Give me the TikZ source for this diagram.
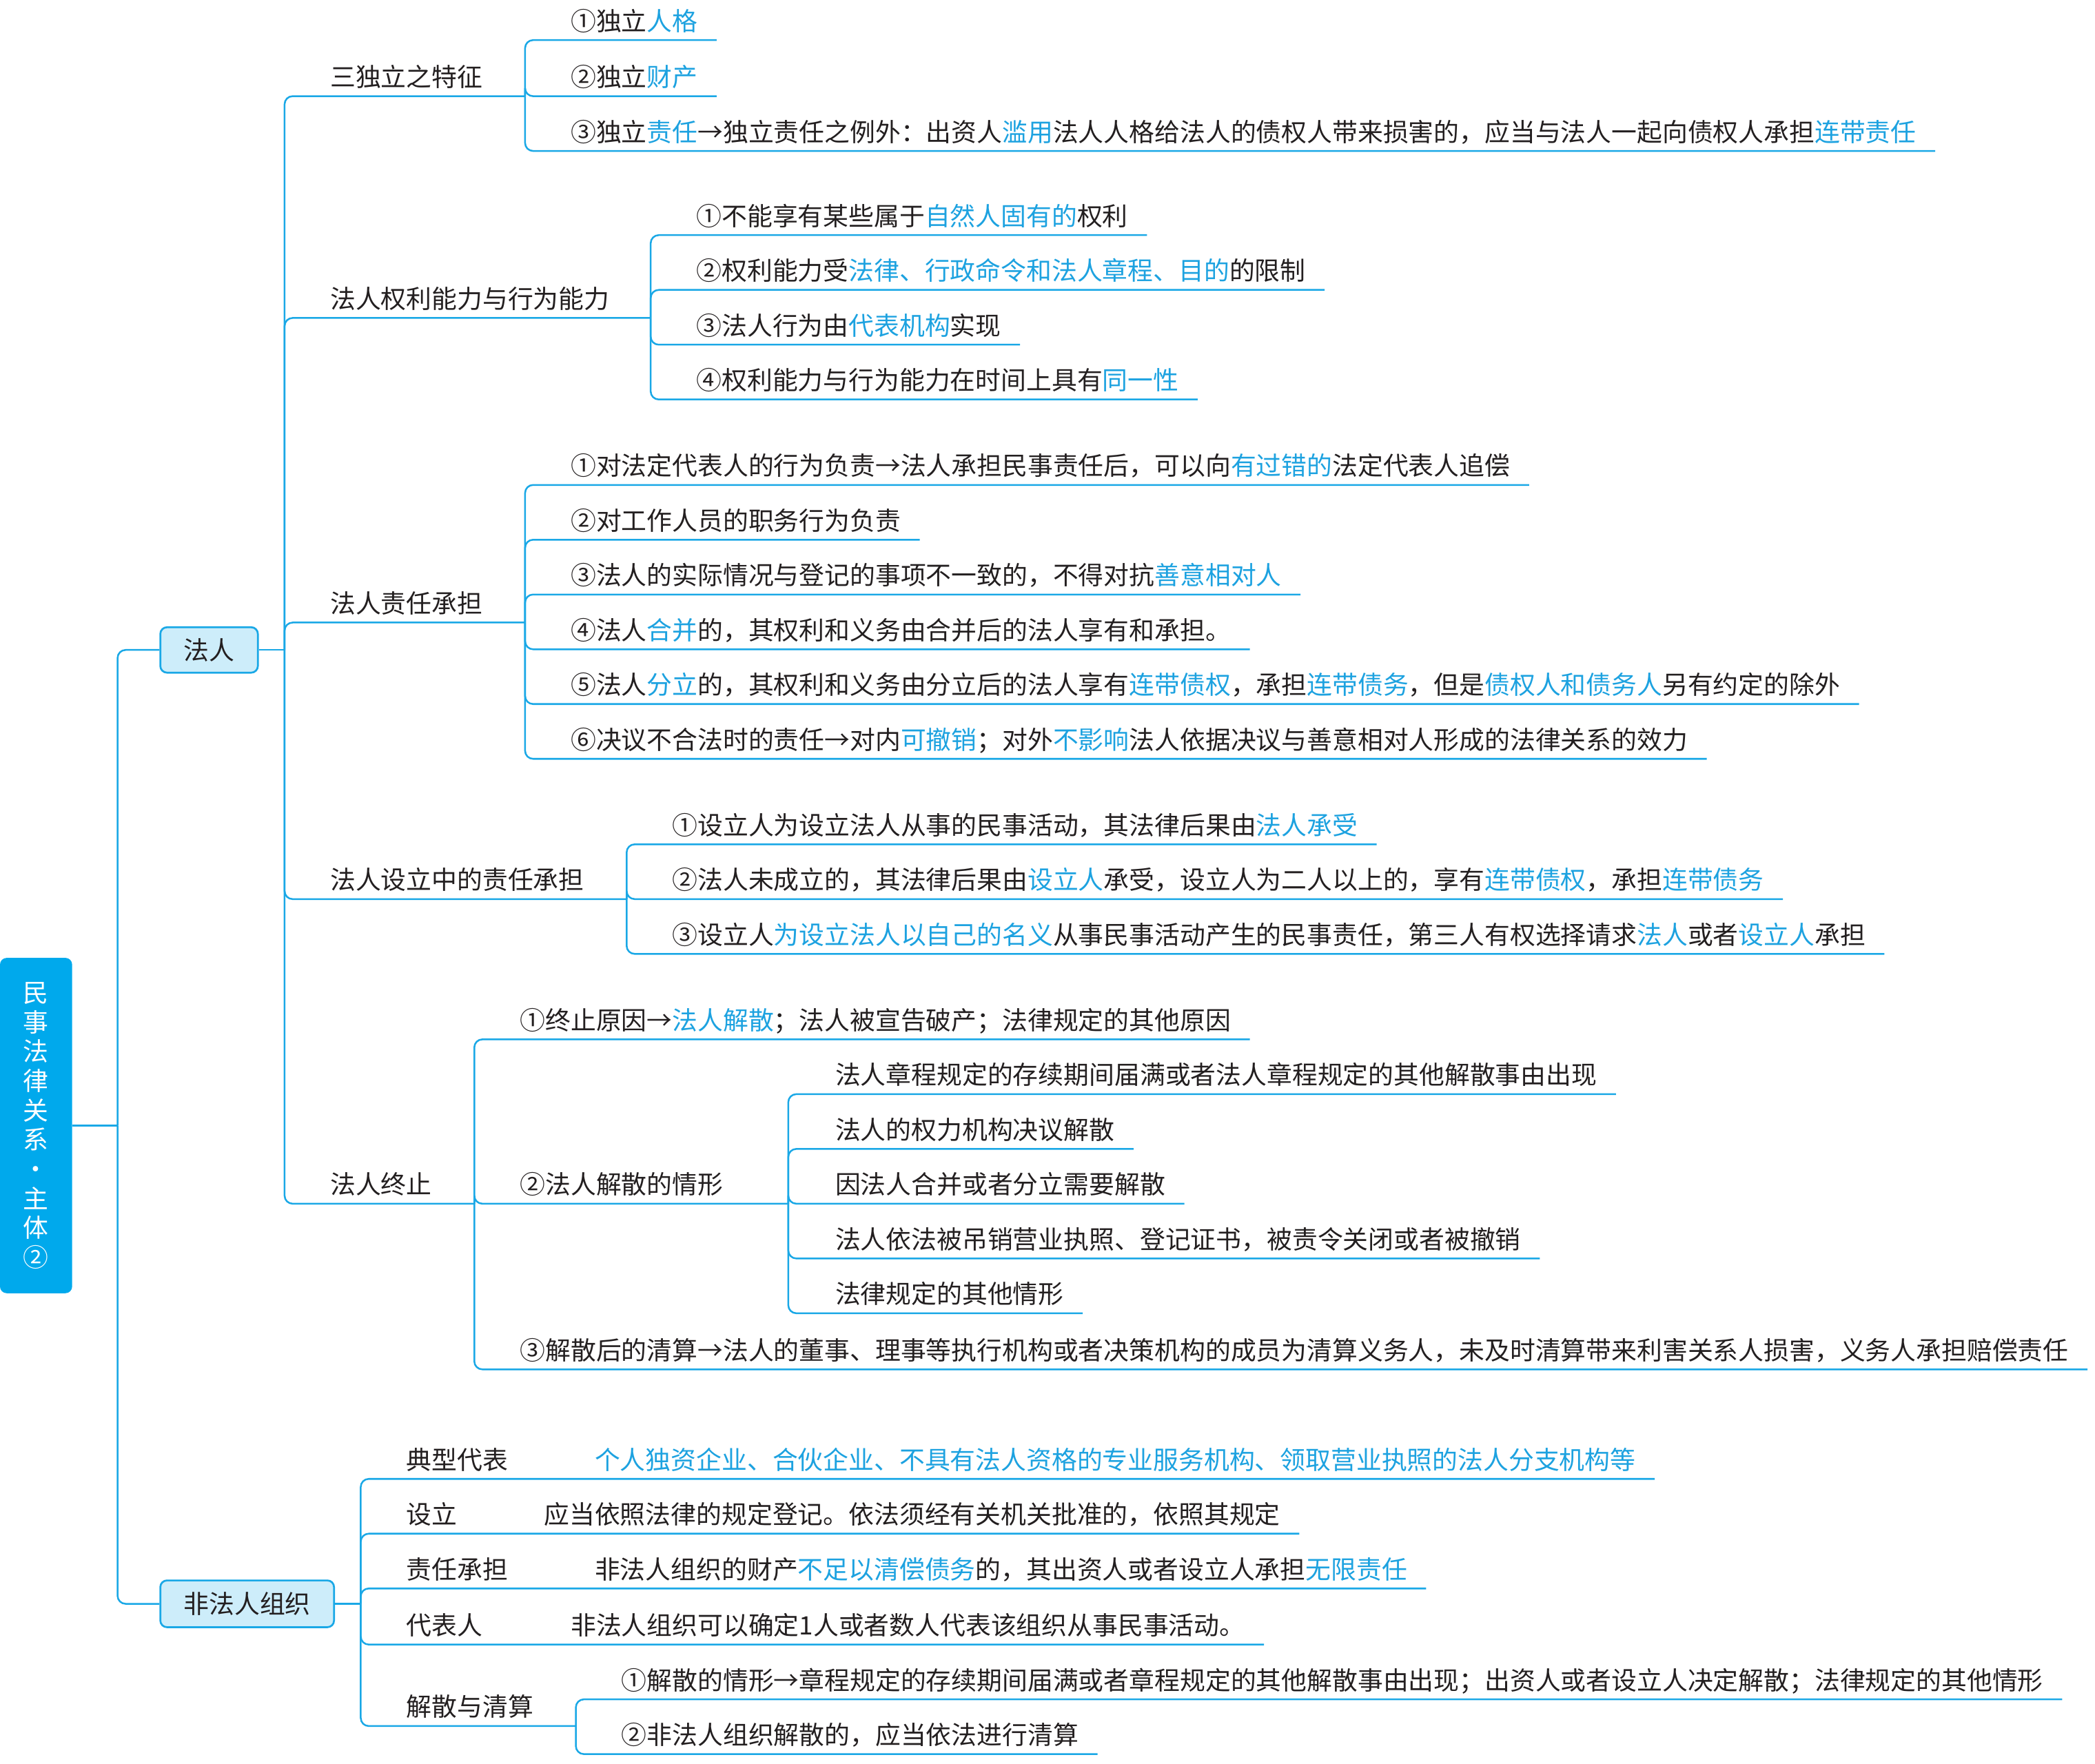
\documentclass[tikz,border=0pt]{standalone}
\usepackage{fontspec}
\setmainfont{Noto Sans CJK SC}
\definecolor{lblue}{HTML}{1AA8E6}
\definecolor{hblue}{HTML}{1DA2E0}
\definecolor{rootblue}{HTML}{00A9EC}
\definecolor{boxfill}{HTML}{CDEDFA}
\definecolor{tblack}{HTML}{231F20}
\newcommand\hb[1]{\textcolor{hblue}{#1}}
\tikzset{
  conn/.style={draw=lblue, line width=1.3pt, rounded corners=6pt},
  txt/.style={anchor=south west, inner xsep=0pt, inner ysep=7pt, text depth=0pt,
    font=\fontsize{19pt}{22pt}\selectfont, text=tblack},
  rootbox/.style={fill=rootblue, rounded corners=5pt, text=white, align=center,
    inner sep=0pt, font=\fontsize{19pt}{22pt}\selectfont},
  catbox/.style={fill=boxfill, draw=lblue, line width=1.4pt, rounded corners=5pt,
    inner sep=0pt, text=tblack, font=\fontsize{19pt}{22pt}\selectfont},
}
\begin{document}
\begin{tikzpicture}[x=1pt,y=-1pt]
\useasboundingbox (0,0) rectangle (1568,1320);

% root
\node[rootbox, minimum width=54pt, minimum height=251pt] (root) at (27,842.5)
  {民\\事\\法\\律\\关\\系\\·\\主\\体\\②};
\coordinate (jR) at (88,842.5);
\draw[conn] (root.east) -- (jR);

\node[catbox, minimum width=73pt, minimum height=34pt] (fr) at (156.5,486.5) {法人};
\node[catbox, minimum width=130pt, minimum height=35pt] (nf) at (185,1200.5) {非法人组织};
\draw[conn] (jR) |- (fr.west);
\draw[conn] (jR) |- (nf.west);

\coordinate (jF) at (213,486.5);
\draw[conn] (fr.east) -- (jF);

% branch A
\node[txt] (a) at (247,72) {三独立之特征};
\coordinate (ja) at (393,72);
\draw[conn] (jF) |- (ja);
\node[txt] (a1) at (427,30) {①独立\hb{人格}};
\node[txt] (a2) at (427,72) {②独立\hb{财产}};
\node[txt] (a3) at (427,113) {③独立\hb{责任}→独立责任之例外：出资人\hb{滥用}法人人格给法人的债权人带来损害的，应当与法人一起向债权人承担\hb{连带责任}};
\foreach \n in {a1,a2,a3} \draw[conn] (ja) |- ([xshift=14pt]\n.south east);

% branch B
\node[txt] (b) at (247,238) {法人权利能力与行为能力};
\coordinate (jb) at (487,238);
\draw[conn] (jF) |- (jb);
\node[txt] (b1) at (521,176) {①不能享有某些属于\hb{自然人固有的}权利};
\node[txt] (b2) at (521,217) {②权利能力受\hb{法律、行政命令和法人章程、目的}的限制};
\node[txt] (b3) at (521,258) {③法人行为由\hb{代表机构}实现};
\node[txt] (b4) at (521,299) {④权利能力与行为能力在时间上具有\hb{同一性}};
\foreach \n in {b1,b2,b3,b4} \draw[conn] (jb) |- ([xshift=14pt]\n.south east);

% branch C
\node[txt] (c) at (247,466) {法人责任承担};
\coordinate (jc) at (393,466);
\draw[conn] (jF) |- (jc);
\node[txt] (c1) at (427,363) {①对法定代表人的行为负责→法人承担民事责任后，可以向\hb{有过错的}法定代表人追偿};
\node[txt] (c2) at (427,404) {②对工作人员的职务行为负责};
\node[txt] (c3) at (427,445) {③法人的实际情况与登记的事项不一致的，不得对抗\hb{善意相对人}};
\node[txt] (c4) at (427,486) {④法人\hb{合并}的，其权利和义务由合并后的法人享有和承担。};
\node[txt] (c5) at (427,527) {⑤法人\hb{分立}的，其权利和义务由分立后的法人享有\hb{连带债权}，承担\hb{连带债务}，但是\hb{债权人和债务人}另有约定的除外};
\node[txt] (c6) at (427,568) {⑥决议不合法时的责任→对内\hb{可撤销}；对外\hb{不影响}法人依据决议与善意相对人形成的法律关系的效力};
\foreach \n in {c1,c2,c3,c4,c5,c6} \draw[conn] (jc) |- ([xshift=14pt]\n.south east);

% branch D
\node[txt] (d) at (247,673) {法人设立中的责任承担};
\coordinate (jd) at (469,673);
\draw[conn] (jF) |- (jd);
\node[txt] (d1) at (503,632) {①设立人为设立法人从事的民事活动，其法律后果由\hb{法人承受}};
\node[txt] (d2) at (503,673) {②法人未成立的，其法律后果由\hb{设立人}承受，设立人为二人以上的，享有\hb{连带债权}，承担\hb{连带债务}};
\node[txt] (d3) at (503,714) {③设立人\hb{为设立法人以自己的名义}从事民事活动产生的民事责任，第三人有权选择请求\hb{法人}或者\hb{设立人}承担};
\foreach \n in {d1,d2,d3} \draw[conn] (jd) |- ([xshift=14pt]\n.south east);

% branch E
\node[txt] (e) at (247,901) {法人终止};
\coordinate (je) at (355,901);
\draw[conn] (jF) |- (je);
\node[txt] (e1) at (389,778) {①终止原因→\hb{法人解散}；法人被宣告破产；法律规定的其他原因};
\node[txt] (e2) at (389,901) {②法人解散的情形};
\coordinate (je2) at (590,901);
\node[txt] (e3) at (389,1025) {③解散后的清算→法人的董事、理事等执行机构或者决策机构的成员为清算义务人，未及时清算带来利害关系人损害，义务人承担赔偿责任};
\draw[conn] (je) |- ([xshift=14pt]e1.south east);
\draw[conn] (je) |- (je2);
\draw[conn] (je) |- ([xshift=14pt]e3.south east);
\node[txt] (e21) at (625,819) {法人章程规定的存续期间届满或者法人章程规定的其他解散事由出现};
\node[txt] (e22) at (625,860) {法人的权力机构决议解散};
\node[txt] (e23) at (625,901) {因法人合并或者分立需要解散};
\node[txt] (e24) at (625,942) {法人依法被吊销营业执照、登记证书，被责令关闭或者被撤销};
\node[txt] (e25) at (625,983) {法律规定的其他情形};
\foreach \n in {e21,e22,e23,e24,e25} \draw[conn] (je2) |- ([xshift=14pt]\n.south east);

% non-legal-person organisation
\coordinate (jn) at (270,1200.5);
\draw[conn] (nf.east) -- (jn);
\node[txt] (f1) at (304,1107) {典型代表};
\node[txt] (f1c) at (445,1107) {\hb{个人独资企业、合伙企业、不具有法人资格的专业服务机构、领取营业执照的法人分支机构等}};
\node[txt] (f2) at (304,1148) {设立};
\node[txt] (f2c) at (407,1148) {应当依照法律的规定登记。依法须经有关机关批准的，依照其规定};
\node[txt] (f3) at (304,1189) {责任承担};
\node[txt] (f3c) at (445,1189) {非法人组织的财产\hb{不足以清偿债务}的，其出资人或者设立人承担\hb{无限责任}};
\node[txt] (f4) at (304,1231) {代表人};
\node[txt] (f4c) at (427,1231) {非法人组织可以确定1人或者数人代表该组织从事民事活动。};
\foreach \n in {f1c,f2c,f3c,f4c} \draw[conn] (jn) |- ([xshift=14pt]\n.south east);
\node[txt] (f5) at (304,1292) {解散与清算};
\coordinate (jf5) at (431,1292);
\draw[conn] (jn) |- (jf5);
\node[txt] (f51) at (465,1272) {①解散的情形→章程规定的存续期间届满或者章程规定的其他解散事由出现；出资人或者设立人决定解散；法律规定的其他情形};
\node[txt] (f52) at (465,1313) {②非法人组织解散的，应当依法进行清算};
\foreach \n in {f51,f52} \draw[conn] (jf5) |- ([xshift=14pt]\n.south east);
\end{tikzpicture}
\end{document}
